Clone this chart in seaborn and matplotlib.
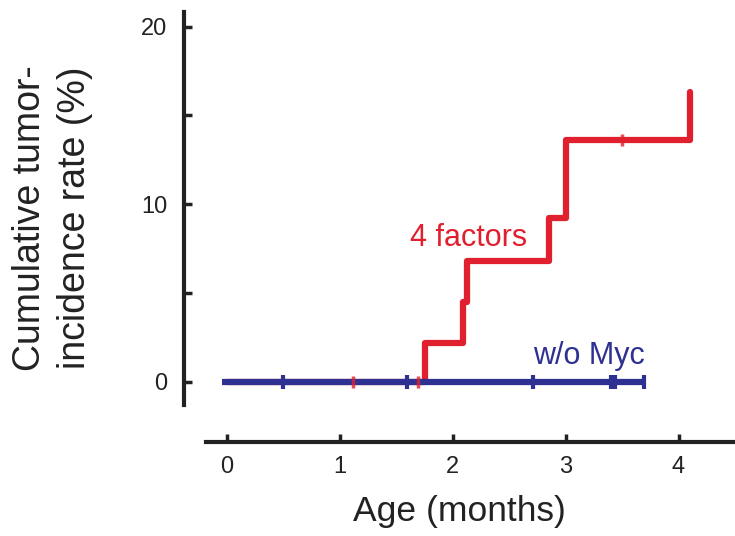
import matplotlib
matplotlib.use("Agg")
import matplotlib.pyplot as plt
import numpy as np
import pandas as pd
import seaborn as sns

# step curves (months, cumulative incidence %)
four_t = [0.0, 1.76, 2.09, 2.13, 2.85, 3.0, 4.1]
four_y = [0.0, 2.2, 4.5, 6.8, 9.2, 13.6, 16.3]
myc_t = [-0.04, 3.69]
myc_y = [0.0, 0.0]

# censored observations
four_cens_t = [1.12, 1.69, 3.5]
four_cens_y = [0.0, 0.0, 13.6]
myc_cens_t = [0.5, 1.6, 2.71, 3.40, 3.44, 3.69]
myc_cens_y = [0.0, 0.0, 0.0, 0.0, 0.0, 0.0]

red = "#e0202e"
blue = "#2e3192"

sns.set_style("ticks")
plt.rcParams['font.family'] = ['Liberation Sans', 'DejaVu Sans']

fig, ax = plt.subplots(figsize=(7.35, 5.36), dpi=100)
fig.subplots_adjust(left=0.25, right=1.0, top=0.98, bottom=0.175)

df_four = pd.DataFrame({"t": four_t, "y": four_y})
df_myc = pd.DataFrame({"t": myc_t, "y": myc_y})
sns.lineplot(data=df_four, x="t", y="y", ax=ax, color=red, lw=4.5,
             drawstyle="steps-post", estimator=None, sort=False, zorder=2)
sns.lineplot(data=df_myc, x="t", y="y", ax=ax, color=blue, lw=4.5,
             estimator=None, sort=False, zorder=3, solid_capstyle="butt")
sns.scatterplot(x=four_cens_t, y=four_cens_y, ax=ax, marker="|", s=70,
                color=red, linewidth=2.5, zorder=4, alpha=0.8)
sns.scatterplot(x=myc_cens_t, y=myc_cens_y, ax=ax, marker="|", s=100,
                color=blue, linewidth=3, zorder=4)

ax.text(2.14, 8.1, "4 factors", color=red, fontsize=22, ha="center", va="center")
ax.text(3.21, 1.45, "w/o Myc", color=blue, fontsize=22, ha="center", va="center")

ax.set_xlim(-0.38, 4.5)
ax.set_ylim(-3.4, 20.9)
ax.set_xticks([0, 1, 2, 3, 4])
ax.set_yticks([0, 10, 20])
ax.set_yticks([5, 15], minor=True)
ax.tick_params(axis="both", direction="in", length=6, width=2.5, labelsize=17,
               color="#222222", labelcolor="#222222")
ax.tick_params(axis="y", which="minor", direction="in", length=6, width=2.5,
               color="#222222")
ax.tick_params(axis="x", pad=10)
ax.tick_params(axis="y", pad=12)

for side in ["top", "right"]:
    ax.spines[side].set_visible(False)
ax.spines["left"].set_linewidth(3)
ax.spines["bottom"].set_linewidth(3)
ax.spines["left"].set_color("#222222")
ax.spines["bottom"].set_color("#222222")
ax.spines["left"].set_bounds(-1.3, 20.8)
ax.spines["bottom"].set_bounds(-0.18, 4.5)

ax.set_xlabel("Age (months)", fontsize=25.5, color="#222222", labelpad=12)
ax.set_ylabel("Cumulative tumor-\nincidence rate (%)", fontsize=27,
              color="#222222", linespacing=1.3)
ax.yaxis.set_label_coords(-0.165, 0.52)

fig.savefig("out.png", dpi=100)
